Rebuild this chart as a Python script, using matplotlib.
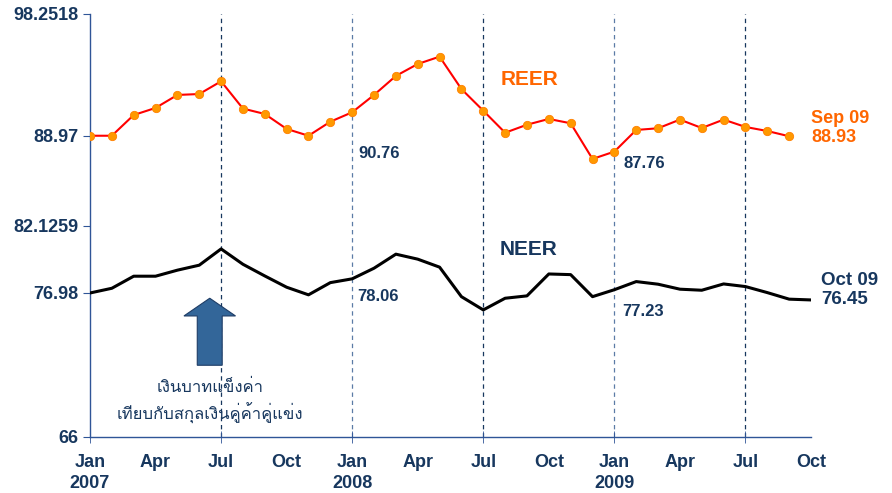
import matplotlib
matplotlib.use("Agg")
import matplotlib.pyplot as plt
from matplotlib.patches import Polygon

# indice de mes: 0 = Jan 2007 ... 33 = Oct 2009
reer = [88.97, 88.97, 90.55, 91.09, 92.08, 92.15, 93.12, 91.04, 90.63, 89.49,
        88.97, 90.04, 90.76, 92.08, 93.53, 94.44, 95.00, 92.53, 90.88, 89.20,
        89.81, 90.25, 89.92, 87.20, 87.76, 89.41, 89.54, 90.20, 89.56, 90.20,
        89.64, 89.33, 88.93]
neer = [76.98, 77.34, 78.26, 78.26, 78.72, 79.10, 80.34, 79.17, 78.28, 77.42,
        76.84, 77.77, 78.06, 78.87, 79.94, 79.56, 78.95, 76.70, 75.69, 76.58,
        76.76, 78.43, 78.38, 76.70, 77.23, 77.85, 77.65, 77.27, 77.19, 77.67,
        77.47, 77.01, 76.51, 76.45]
yticks = [66, 76.98, 82.1259, 88.97, 98.2518]
ytick_labels = ["66", "76.98", "82.1259", "88.97", "98.2518"]
xlabel_pos = list(range(0, 34, 3))
xlabel_txt = ["Jan\n2007", "Apr", "Jul", "Oct", "Jan\n2008", "Apr", "Jul", "Oct",
              "Jan\n2009", "Apr", "Jul", "Oct"]
vlines = [6, 12, 18, 24, 30]
note = "เงินบาทแข็งค่า\nเทียบกับสกุลเงินคู่ค้าคู่แข่ง"

NAVY = "#17375e"
ORANGE = "#ff6600"
FONT = ["Liberation Sans Narrow", "Liberation Sans", "DejaVu Sans"]
plt.rcParams["font.family"] = FONT

fig = plt.figure(figsize=(8.92, 4.93), dpi=100)
ax = fig.add_axes([90 / 892, 1 - 437 / 493, (811 - 90) / 892, (437 - 14) / 493])

for v in vlines:
    c = NAVY if v % 12 == 6 else "#5b7ba6"
    ax.axvline(v, color=c, lw=0.9, ls=(0, (3.5, 3)), zorder=1)

ax.plot(range(len(reer)), reer, color="#ff0000", lw=1.5, marker="o", ms=6,
        mfc="#ff9900", mec="#ff8000", mew=0.6, zorder=3)
ax.plot(range(len(neer)), neer, color="black", lw=2.2, zorder=3)

ax.set_xlim(0, 33)
ax.set_ylim(66, 98.2518)
ax.set_yticks(yticks, ytick_labels)
ax.set_xticks(xlabel_pos, xlabel_txt)
ax.set_xticks([0] + vlines, minor=True)
ax.xaxis.remove_overlapping_locs = False
for s in ["top", "right"]:
    ax.spines[s].set_visible(False)
for s in ["left", "bottom"]:
    ax.spines[s].set_color("#2f5597")
    ax.spines[s].set_linewidth(1.0)
ax.tick_params(axis="y", colors="#2f5597", labelcolor=NAVY, length=5, labelsize=13)
ax.tick_params(axis="x", which="minor", colors="#2f5597", direction="inout", length=8)
ax.tick_params(axis="x", which="major", length=0, labelcolor=NAVY, labelsize=13, pad=12)
for t in ax.get_yticklabels() + ax.get_xticklabels():
    t.set_fontweight("bold")
for t in ax.get_xticklabels():
    t.set_linespacing(1.3)

b = dict(fontweight="bold", fontsize=12, color=NAVY, va="center")
ax.text(12.3, 87.58, "90.76", **b)
ax.text(24.4, 86.82, "87.76", **b)
ax.text(12.25, 76.68, "78.06", **b)
ax.text(24.35, 75.54, "77.23", **b)
ax.text(18.8, 93.22, "REER", color=ORANGE, fontsize=15, fontweight="bold", va="center")
ax.text(18.75, 80.26, "NEER", color=NAVY, fontsize=15, fontweight="bold", va="center")
ax.text(33.0, 89.56, "Sep 09\n88.93", color=ORANGE, fontsize=13, fontweight="bold",
        va="center", linespacing=1.15, clip_on=False)
ax.text(33.45, 77.22, "Oct 09\n76.45", color=NAVY, fontsize=13.5, fontweight="bold",
        va="center", linespacing=1.15, clip_on=False)

# seta azul
cx, hw, sw = 5.48, 1.18, 0.57
y_tip, y_head, y_base = 76.58, 75.23, 71.47
ax.add_patch(Polygon([(cx, y_tip), (cx + hw, y_head), (cx + sw, y_head), (cx + sw, y_base),
                      (cx - sw, y_base), (cx - sw, y_head), (cx - hw, y_head)],
                     closed=True, fc="#336699", ec="#1f3d66", lw=0.8, zorder=4))
ax.text(cx, 68.7, note, ha="center", va="center", color=NAVY, fontsize=12,
        linespacing=1.45, family=["Liberation Sans", "DejaVu Sans", "Noto Sans", "Loma",
                                  "Garuda", "Tlwg Typist"])

fig.savefig("out.png", dpi=100)
